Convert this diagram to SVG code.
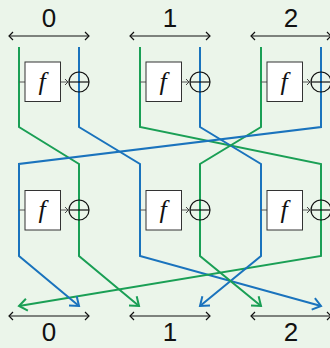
<svg xmlns="http://www.w3.org/2000/svg" width="330" height="348" viewBox="0 0 330 348">
<style>
.lbl{font-family:"Liberation Sans","DejaVu Sans",sans-serif;font-size:26px;fill:#111;text-anchor:middle}
.fn{font-family:"Liberation Serif","DejaVu Serif",serif;font-style:italic;font-size:26px;fill:#111;text-anchor:middle}
.box{fill:#fff;stroke:#333;stroke-width:1}
.xor{fill:none;stroke:#111;stroke-width:1.2}
.g{fill:none;stroke:#1a9f55;stroke-width:2}
.b{fill:none;stroke:#1a73bd;stroke-width:2}
.rng{stroke:#111;stroke-width:1.2;fill:none}
.tick{stroke:#555;stroke-width:1;fill:none}
</style>
<defs>
<marker id="ah" viewBox="-6 -5 8 10" markerWidth="8" markerHeight="10" refX="0" refY="0" orient="auto-start-reverse" markerUnits="userSpaceOnUse">
<path d="M-4,-4 L0,0 L-4,4" fill="none" stroke="#111" stroke-width="1.2"/>
</marker>
<marker id="sa" viewBox="-5 -4 6 8" markerWidth="6" markerHeight="8" refX="0" refY="0" orient="auto" markerUnits="userSpaceOnUse">
<path d="M-3,-3 L0,0 L-3,3" fill="none" stroke="#444" stroke-width="1"/>
</marker>
<marker id="ag" viewBox="-12 -8 14 16" markerWidth="14" markerHeight="16" refX="0" refY="0" orient="auto" markerUnits="userSpaceOnUse">
<path d="M-8,-6 L0,0 L-8,6" fill="none" stroke="#1a9f55" stroke-width="2"/>
</marker>
<marker id="ab" viewBox="-12 -8 14 16" markerWidth="14" markerHeight="16" refX="0" refY="0" orient="auto" markerUnits="userSpaceOnUse">
<path d="M-8,-6 L0,0 L-8,6" fill="none" stroke="#1a73bd" stroke-width="2"/>
</marker>
</defs>
<rect width="330" height="348" fill="#ebf5ea"/>

<g id="ranges">
<path class="rng" d="M9 36 H89" marker-start="url(#ah)" marker-end="url(#ah)"/>
<path class="rng" d="M130 36 H210" marker-start="url(#ah)" marker-end="url(#ah)"/>
<path class="rng" d="M251 36 H331" marker-start="url(#ah)" marker-end="url(#ah)"/>
<path class="rng" d="M9 316 H89" marker-start="url(#ah)" marker-end="url(#ah)"/>
<path class="rng" d="M130 316 H210" marker-start="url(#ah)" marker-end="url(#ah)"/>
<path class="rng" d="M251 316 H331" marker-start="url(#ah)" marker-end="url(#ah)"/>
<text class="lbl" x="49" y="27">0</text>
<text class="lbl" x="170" y="27">1</text>
<text class="lbl" x="291" y="27">2</text>
<text class="lbl" x="49" y="341">0</text>
<text class="lbl" x="170" y="341">1</text>
<text class="lbl" x="291" y="341">2</text>
</g>

<g id="connectors">
<path class="g" d="M19 47 V127 L79 164 V256 L139 306" marker-end="url(#ag)"/>
<path class="b" d="M79 47 V127 L140 164 V256 L321 306" marker-end="url(#ab)"/>
<path class="g" d="M140 47 V127 L321 164 V256 L19 306" marker-end="url(#ag)"/>
<path class="b" d="M200 47 V127 L261 164 V256 L200 306" marker-end="url(#ab)"/>
<path class="g" d="M261 47 V127 L200 164 V256 L261 306" marker-end="url(#ag)"/>
<path class="b" d="M321 47 V127 L19 164 V256 L79 306" marker-end="url(#ab)"/>
</g>

<g id="r1c0">
<path class="tick" d="M19 82 H25"/>
<rect class="box" x="25" y="62" width="35.5" height="39.5"/>
<text class="fn" x="42" y="90">f</text>
<path class="tick" d="M61 82 H68" marker-end="url(#sa)"/>
<circle class="xor" cx="79" cy="82" r="10"/><path class="xor" d="M69 82 H89"/>
</g>
<g id="r1c1">
<path class="tick" d="M140 82 H146"/>
<rect class="box" x="146" y="62" width="35.5" height="39.5"/>
<text class="fn" x="163" y="90">f</text>
<path class="tick" d="M182 82 H189" marker-end="url(#sa)"/>
<circle class="xor" cx="200" cy="82" r="10"/><path class="xor" d="M190 82 H210"/>
</g>
<g id="r1c2">
<path class="tick" d="M261 82 H267"/>
<rect class="box" x="267" y="62" width="35.5" height="39.5"/>
<text class="fn" x="284" y="90">f</text>
<path class="tick" d="M303 82 H310" marker-end="url(#sa)"/>
<circle class="xor" cx="321" cy="82" r="10"/><path class="xor" d="M311 82 H331"/>
</g>
<g id="r2c0">
<path class="tick" d="M19 210 H25"/>
<rect class="box" x="25" y="190.5" width="35.5" height="39.5"/>
<text class="fn" x="42" y="218">f</text>
<path class="tick" d="M61 210 H68" marker-end="url(#sa)"/>
<circle class="xor" cx="79" cy="210" r="10"/><path class="xor" d="M69 210 H89"/>
</g>
<g id="r2c1">
<path class="tick" d="M140 210 H146"/>
<rect class="box" x="146" y="190.5" width="35.5" height="39.5"/>
<text class="fn" x="163" y="218">f</text>
<path class="tick" d="M182 210 H189" marker-end="url(#sa)"/>
<circle class="xor" cx="200" cy="210" r="10"/><path class="xor" d="M190 210 H210"/>
</g>
<g id="r2c2">
<path class="tick" d="M261 210 H267"/>
<rect class="box" x="267" y="190.5" width="35.5" height="39.5"/>
<text class="fn" x="284" y="218">f</text>
<path class="tick" d="M303 210 H310" marker-end="url(#sa)"/>
<circle class="xor" cx="321" cy="210" r="10"/><path class="xor" d="M311 210 H331"/>
</g>
</svg>
